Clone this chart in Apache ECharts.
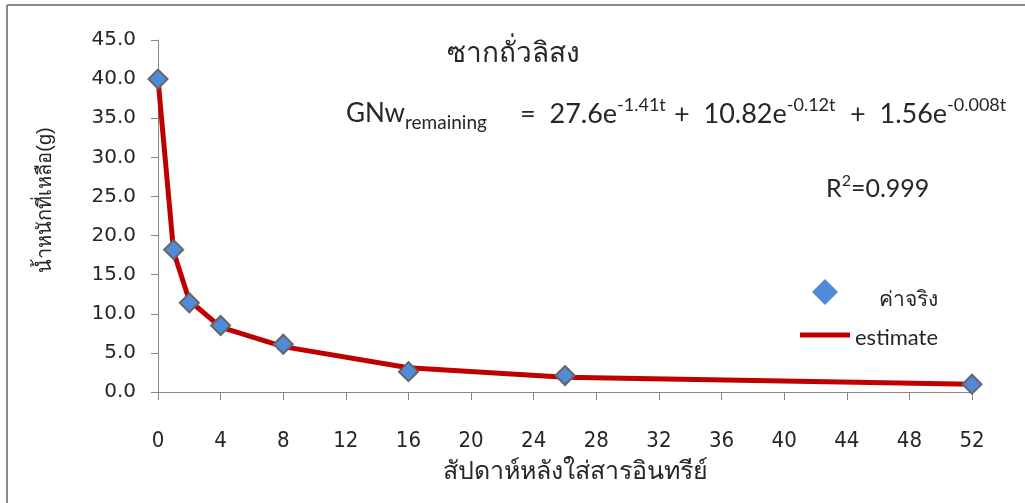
<!DOCTYPE html>
<html>
<head>
<meta charset="utf-8">
<script src="https://cdn.jsdelivr.net/npm/echarts@6/dist/echarts.min.js"></script>
<style>
  html, body { margin: 0; padding: 0; background: #fff; }
  #chart { width: 1025px; height: 503px; }
</style>
</head>
<body>
<div id="chart"></div>
<script>
// weeks after applying organic matter
const weeks = [0, 1, 2, 4, 8, 16, 26, 52]
// measured remaining weight (g)
const actual = [40.0, 18.2, 11.4, 8.5, 6.1, 2.6, 2.1, 1.0]
// fitted curve
const estimate = [40.0, 17.9, 11.7, 8.3, 5.8, 3.1, 1.9, 1.0]

const xMin = 0, xMax = 52, xStep = 4
const yMin = 0, yMax = 45, yStep = 5

const chart = echarts.init(document.getElementById('chart'))

const axisGray = '#868686'
const textColor = '#262626'

// one piece of the fitted equation: main text plus a raised exponent
function eqPart(x, main, sup) {
  return {
    type: 'text', x, y: 114,
    style: {
      text: '{n|' + main + '}{sup|' + sup + '}',
      verticalAlign: 'middle',
      rich: {
        n: { fontSize: 27, lineHeight: 36, fill: textColor, fontFamily: 'Lato' },
        sup: { fontSize: 18, lineHeight: 18, verticalAlign: 'top', fill: textColor, fontFamily: 'Lato' }
      }
    }
  }
}

chart.setOption({
  animation: false,
  backgroundColor: '#fff',
  title: {
    text: 'ซากถั่วลิสง',
    left: 442, top: 35,
    textStyle: { fontSize: 28, fontWeight: 'normal', color: textColor, fontFamily: 'sans-serif' }
  },
  grid: { left: 158, right: 53, top: 40, bottom: 111 },
  xAxis: {
    type: 'value', min: xMin, max: xMax, interval: xStep,
    axisLine: { lineStyle: { color: axisGray, width: 1 } },
    axisTick: { show: true, length: 8, lineStyle: { color: axisGray } },
    axisLabel: {
      margin: 38, fontSize: 22, color: textColor,
      fontFamily: "'Liberation Sans Narrow', 'DejaVu Sans Condensed', sans-serif"
    },
    splitLine: { show: false }
  },
  yAxis: {
    type: 'value', min: yMin, max: yMax, interval: yStep,
    axisLine: { show: true, lineStyle: { color: axisGray, width: 1 } },
    axisTick: { show: true, length: 7, lineStyle: { color: axisGray } },
    axisLabel: {
      margin: 22, fontSize: 20, color: textColor, fontFamily: 'DejaVu Sans',
      formatter: v => v.toFixed(1)
    },
    splitLine: { show: false }
  },
  legend: [
    {
      left: 807, top: 274,
      itemWidth: 26, itemHeight: 26,
      data: ['ค่าจริง'],
      itemStyle: { borderWidth: 0 },
      textStyle: {
        fontSize: 21, color: textColor,
        rich: { a: { fontSize: 21, color: textColor, padding: [16, 0, 0, 36] } }
      },
      formatter: n => '{a|' + n + '}'
    },
    {
      left: 795, top: 322,
      itemWidth: 50, itemHeight: 5,
      data: [{ name: 'estimate', icon: 'rect' }],
      textStyle: {
        fontSize: 22, color: textColor, fontFamily: 'Lato',
        rich: { b: { fontSize: 22, color: textColor, fontFamily: 'Lato', padding: [6, 0, 0, 0] } }
      },
      formatter: n => '{b|' + n + '}'
    }
  ],
  graphic: [
    // frame on top and left
    { type: 'line', shape: { x1: 7, y1: 5, x2: 1025, y2: 5 }, style: { stroke: '#8c8c8c', lineWidth: 2 } },
    { type: 'line', shape: { x1: 7, y1: 5, x2: 7, y2: 503 }, style: { stroke: '#8c8c8c', lineWidth: 2 } },
    {
      type: 'text', x: 45, y: 200, rotation: Math.PI / 2,
      style: {
        text: 'น้ำหนักที่เหลือ(g)', fontSize: 20, fill: textColor, fontFamily: 'sans-serif',
        align: 'center', verticalAlign: 'middle'
      }
    },
    {
      type: 'text', x: 575, y: 472,
      style: {
        text: 'สัปดาห์หลังใส่สารอินทรีย์', fontSize: 25, fill: textColor, fontFamily: 'sans-serif',
        align: 'center', verticalAlign: 'middle'
      }
    },
    {
      type: 'text', x: 346, y: 114,
      style: {
        text: '{n|GNw}{sub|remaining}',
        verticalAlign: 'middle',
        rich: {
          n: { fontSize: 26, lineHeight: 36, fill: textColor, fontFamily: 'Lato' },
          sub: { fontSize: 19, lineHeight: 18, verticalAlign: 'bottom', fill: textColor, fontFamily: 'Lato' }
        }
      }
    },
    eqPart(520, '=  27.6e', '-1.41t'),
    eqPart(674, '+  10.82e', '-0.12t'),
    eqPart(850, '+  1.56e', '-0.008t'),
    {
      type: 'text', x: 826, y: 189,
      style: {
        text: '{n|R}{sup|2}{n|=0.999}',
        verticalAlign: 'middle',
        rich: {
          n: { fontSize: 25, lineHeight: 32, fill: textColor, fontFamily: 'Lato' },
          sup: { fontSize: 16, lineHeight: 16, verticalAlign: 'top', fill: textColor, fontFamily: 'Lato' }
        }
      }
    }
  ],
  series: [
    {
      name: 'estimate', type: 'line',
      data: weeks.map((w, i) => [w, estimate[i]]),
      symbol: 'none', smooth: false,
      lineStyle: { color: '#C00000', width: 5, join: 'round', cap: 'round' },
      itemStyle: { color: '#C00000' },
      z: 2
    },
    {
      name: 'ค่าจริง', type: 'scatter',
      data: weeks.map((w, i) => [w, actual[i]]),
      symbol: 'diamond', symbolSize: 19,
      itemStyle: { color: '#4F8BD6', borderColor: '#666', borderWidth: 2, opacity: 1 },
      z: 3
    }
  ]
})
</script>
</body>
</html>
